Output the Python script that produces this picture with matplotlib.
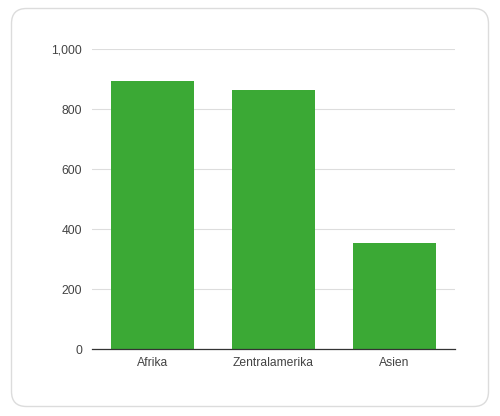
import matplotlib
matplotlib.use("Agg")
import matplotlib.pyplot as plt
from matplotlib.patches import FancyBboxPatch

categories = ["Afrika", "Zentralamerika", "Asien"]
values = [892, 863, 355]
yticks = [0, 200, 400, 600, 800, 1000]
ytick_labels = ["0", "200", "400", "600", "800", "1,000"]

plt.rcParams['font.family'] = ['Liberation Sans', 'DejaVu Sans']

fig = plt.figure(figsize=(5.0, 4.16), dpi=100)
fig.patch.set_facecolor("white")

card = FancyBboxPatch((11.5/500, 9.5/416), 477/500, 398/416,
                      boxstyle="round,pad=0,rounding_size=0.03",
                      transform=fig.transFigure, facecolor="white",
                      edgecolor="#dcdcdc", linewidth=1.0,
                      mutation_aspect=500/416, zorder=-10)
fig.patches.append(card)

ax = fig.add_axes([92/500, (416-349)/416, (455-92)/500, 300/416])
ax.set_zorder(5)
ax.set_facecolor("none")
ax.bar(range(len(categories)), values, width=0.69, color="#3BA935", zorder=3)
ax.set_xlim(-0.5, 2.5)
ax.set_ylim(0, 1000)
ax.set_yticks(yticks)
ax.set_yticklabels(ytick_labels)
ax.set_xticks(range(len(categories)))
ax.set_xticklabels(categories)
ax.grid(axis="y", color="#dddddd", linewidth=0.8, zorder=0)
for s in ["top", "right", "left"]:
    ax.spines[s].set_visible(False)
ax.spines["bottom"].set_color("#333333")
ax.spines["bottom"].set_linewidth(0.9)
ax.spines["bottom"].set_zorder(4)
ax.tick_params(axis="both", length=0, labelsize=8.7, labelcolor="#444444")
ax.tick_params(axis="y", pad=7)
ax.tick_params(axis="x", pad=6)

fig.savefig("out.png", dpi=100, facecolor="white")
